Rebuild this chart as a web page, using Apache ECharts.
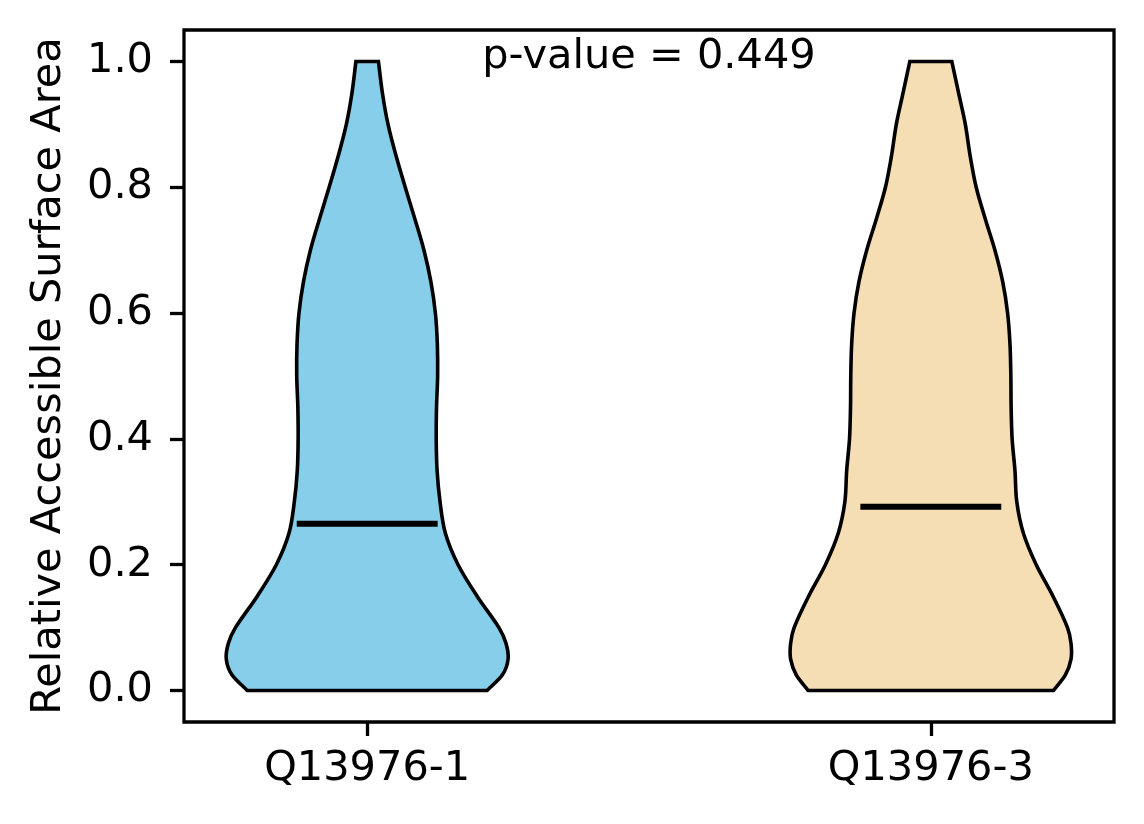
<!DOCTYPE html>
<html>
<head>
<meta charset="utf-8">
<script src="https://cdn.jsdelivr.net/npm/echarts@6/dist/echarts.min.js"></script>
<style>
html, body { margin: 0; padding: 0; background: #fff; }
#main { width: 1144px; height: 824px; }
</style>
</head>
<body>
<div id="main"></div>
<script>
// 分类与位置
var categories = ['Q13976-1', 'Q13976-3'];
var positions = [1, 2];
var colors = ['#87ceeb', '#f5deb3'];
// 小提琴轮廓：各高度处的相对密度（最宽处为 1）
var yLevels = [0, 0.025, 0.05, 0.075, 0.1, 0.15, 0.2, 0.25, 0.3, 0.35, 0.4, 0.45, 0.5, 0.55, 0.6, 0.65, 0.7, 0.75, 0.8, 0.85, 0.9, 0.95, 1.0];
var densityQ1 = [0.851, 0.96, 1.0, 0.985, 0.935, 0.78, 0.645, 0.555, 0.517, 0.496, 0.49, 0.492, 0.5, 0.498, 0.484, 0.452, 0.403, 0.338, 0.27, 0.205, 0.148, 0.108, 0.08];
var densityQ3 = [0.87, 0.955, 0.995, 0.995, 0.97, 0.867, 0.748, 0.657, 0.61, 0.597, 0.577, 0.57, 0.568, 0.562, 0.545, 0.51, 0.455, 0.386, 0.322, 0.279, 0.245, 0.197, 0.149];
var medians = [0.265, 0.292];
var yTicks = [0, 0.2, 0.4, 0.6, 0.8, 1.0];
var pValue = 0.449;

var densities = [densityQ1, densityQ3];
var halfWidth = 0.25;   // widths = 0.5
var FONT = '"DejaVu Sans", sans-serif';

var myChart = echarts.init(document.getElementById('main'));

// 沿一条边画平滑曲线（Hermite 插值，仅用于绘制）
function sideCurve(pts, ts) {
    var n = pts.length, d = '';
    var m = [];
    for (var k = 0; k < n; k++) {
        var a = Math.max(0, k - 1), b = Math.min(n - 1, k + 1);
        var dt = ts[b] - ts[a];
        m.push([(pts[b][0] - pts[a][0]) / dt, (pts[b][1] - pts[a][1]) / dt]);
    }
    for (var k = 0; k < n - 1; k++) {
        var h = (ts[k + 1] - ts[k]) / 3;
        var c1 = [pts[k][0] + m[k][0] * h, pts[k][1] + m[k][1] * h];
        var c2 = [pts[k + 1][0] - m[k + 1][0] * h, pts[k + 1][1] - m[k + 1][1] * h];
        d += ' C' + c1[0] + ',' + c1[1] + ' ' + c2[0] + ',' + c2[1] + ' ' + pts[k + 1][0] + ',' + pts[k + 1][1];
    }
    return d;
}

function renderViolin(params, api) {
    var pos = api.value(0);
    var med = api.value(1);
    var idx = api.value(2);
    var dens = densities[idx];
    var right = [], left = [], tsDown = [];
    for (var k = 0; k < yLevels.length; k++) {
        right.push(api.coord([pos + dens[k] * halfWidth, yLevels[k]]));
    }
    for (var k = yLevels.length - 1; k >= 0; k--) {
        left.push(api.coord([pos - dens[k] * halfWidth, yLevels[k]]));
        tsDown.push(yLevels[k]);
    }
    var d = 'M' + right[0][0] + ',' + right[0][1] + sideCurve(right, yLevels)
        + ' L' + left[0][0] + ',' + left[0][1] + sideCurve(left, tsDown) + ' Z';
    var m1 = api.coord([pos - halfWidth / 2, med]);
    var m2 = api.coord([pos + halfWidth / 2, med]);
    return {
        type: 'group',
        children: [{
            type: 'path',
            shape: { pathData: d },
            style: { fill: colors[idx], stroke: '#000', lineWidth: 3.6, lineJoin: 'miter' }
        }, {
            type: 'line',
            shape: { x1: m1[0], y1: m1[1], x2: m2[0], y2: m2[1] },
            style: { stroke: '#000', lineWidth: 6 }
        }]
    };
}

var option = {
    animation: false,
    backgroundColor: '#fff',
    grid: {
        left: 184, right: 30, top: 30, bottom: 102,
        show: true, borderColor: '#000', borderWidth: 3.3
    },
    xAxis: {
        type: 'value',
        min: 0.675, max: 2.325,
        splitLine: { show: false },
        axisLine: { show: false, onZero: false },
        axisTick: { customValues: positions, length: 14, lineStyle: { color: '#000', width: 3.3 } },
        axisLabel: {
            customValues: positions,
            formatter: function (v) { return categories[positions.indexOf(v)]; },
            color: '#000', fontSize: 41.5, fontFamily: FONT, margin: 26
        }
    },
    yAxis: {
        type: 'value',
        min: -0.05, max: 1.05,
        name: 'Relative Accessible Surface Area',
        nameLocation: 'middle',
        nameGap: 114,
        nameTextStyle: { color: '#000', fontSize: 41.5, fontFamily: FONT },
        splitLine: { show: false },
        axisLine: { show: false, onZero: false },
        axisTick: { customValues: yTicks, length: 14, lineStyle: { color: '#000', width: 3.3 } },
        axisLabel: {
            customValues: yTicks,
            formatter: function (v) { return v.toFixed(1); },
            color: '#000', fontSize: 41.5, fontFamily: FONT, margin: 31
        }
    },
    series: [{
        type: 'custom',
        name: 'violin',
        renderItem: renderViolin,
        data: categories.map(function (c, i) { return [positions[i], medians[i], i]; }),
        encode: { x: 0, y: 1 }
    }, {
        type: 'custom',
        name: 'pvalue',
        renderItem: function (params, api) {
            var p = api.coord([api.value(0), api.value(1)]);
            return {
                type: 'text',
                x: p[0], y: p[1],
                style: {
                    text: 'p-value = ' + pValue,
                    fill: '#000', font: '41.5px ' + FONT,
                    align: 'center', verticalAlign: 'middle'
                }
            };
        },
        data: [[1.5, 1.007]]
    }]
};
myChart.setOption(option);
</script>
</body>
</html>
